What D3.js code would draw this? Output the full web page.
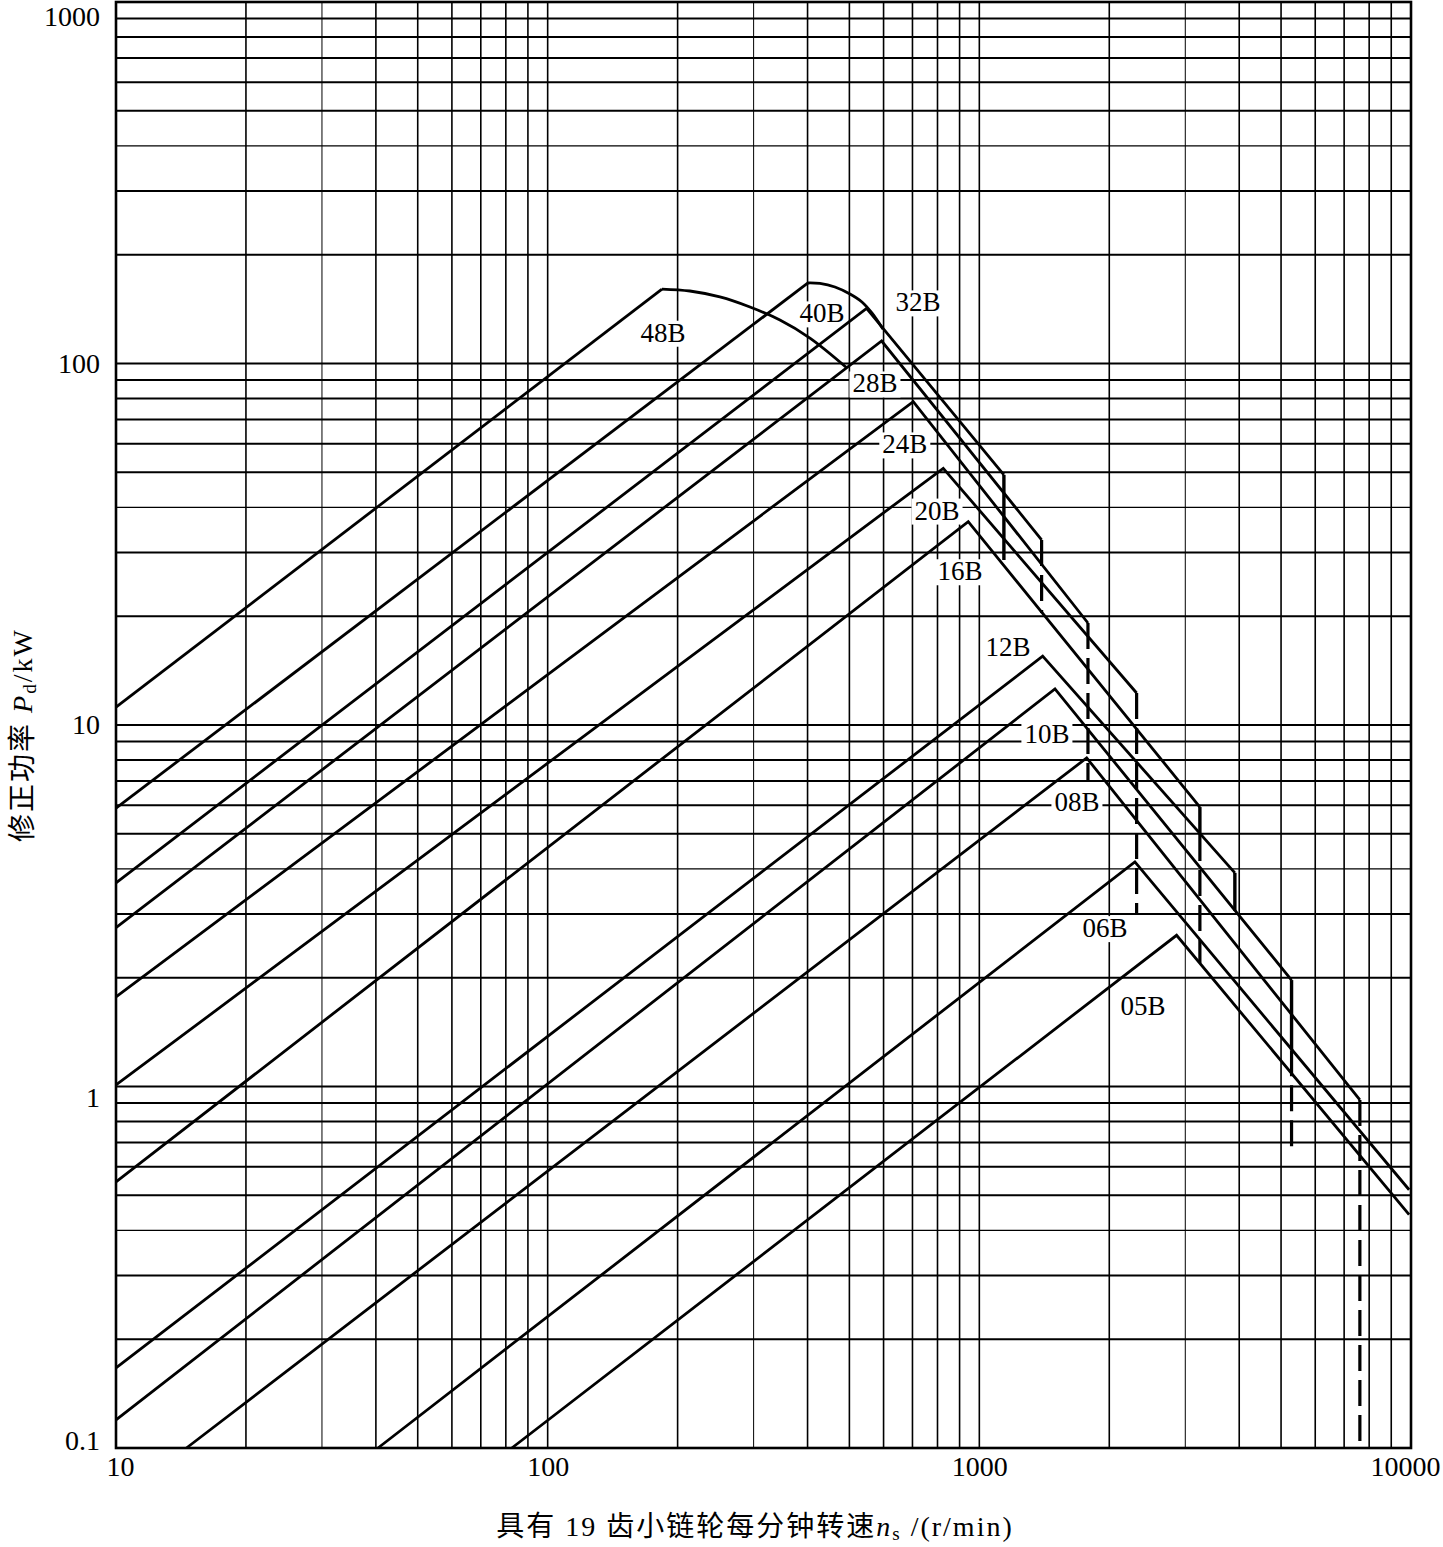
<!DOCTYPE html>
<html>
<head>
<meta charset="utf-8">
<script src="https://cdn.jsdelivr.net/npm/d3@7"></script>
<style>
body { margin: 0; background: #fff; }
svg text { font-family: "Liberation Serif", "Noto Sans CJK SC", serif; fill: #000; }
</style>
</head>
<body>
<script>
// 坐标轴刻度
var xTicks = [10, 100, 1000, 10000];
var yTicks = [0.1, 1, 10, 100, 1000];

// 链号
var chainNames = ["48B", "40B", "32B", "28B", "24B", "20B", "16B", "12B", "10B", "08B", "06B", "05B"];

// 每条链的折线点 [n, P]
var line48B = [[10, 11.2], [184, 160.7]];
var arc48B = [[184, 160.7], [213.5, 158.7], [250.6, 152.8], [294.2, 143.3], [345.2, 131.9], [405.1, 117.6], [493.6, 97.2]];
var line40B = [[10, 5.89], [400.9, 167]];
var arc40B = [[400.9, 167], [427.3, 166.5], [462.9, 162.8], [501.5, 155.7], [534.6, 148], [563.8, 138], [597.9, 124.6]];
var line32B = [[10, 3.66], [548, 142], [1140, 49.2]];
var line28B = [[10, 2.75], [593.9, 115.4], [1394, 32.5]];
var line24B = [[10, 1.77], [703, 78.4], [1785, 19.15]];
var line20B = [[10, 1.01], [825, 51.3], [2314, 12.26]];
var line16B = [[10, 0.545], [942.6, 36.5], [3243, 5.93]];
var line12B = [[10, 0.1665], [1402, 15.5], [3908, 3.90]];
var line10B = [[10, 0.1196], [1497, 12.58], [5288, 1.97]];
var line08B = [[14.56, 0.1], [1773, 8.11], [7613, 0.918]];
var line06B = [[40.45, 0.1], [2293, 4.18], [9900, 0.518]];
var line05B = [[82.6, 0.1], [2864, 2.62], [9900, 0.442]];

// 极限转速竖线 [n, P上, P下]
var solidStops = [[1140, 49.2, 28.6], [3243, 5.93, 4.96], [3908, 3.90, 3.06], [5288, 1.97, 1.26]];
var dashStops = [[1394, 32.5, 20.4], [1785, 19.15, 7.05], [2314, 12.26, 2.98], [3243, 4.96, 2.195], [5288, 1.26, 0.68], [7613, 0.918, 0.1]];

// 标注位置 [n, P]
var labelAt = [[185, 122], [432, 138], [721, 148], [573, 88.3], [672, 59.9], [798, 39.3], [902, 26.7], [1165, 16.5], [1434, 9.44], [1683, 6.16], [1954, 2.75], [2393, 1.67]];

var W = 1443, H = 1547;
var x = d3.scaleLog().domain([10, 10000]).range([116, 1411]);
var y = d3.scaleLog().domain([0.1, 1000]).range([1448, 2]);

// 网格数值
var hGrid = [];
for (var e = -1; e <= 2; e++) for (var k = 1; k <= 9; k++) hGrid.push(k * Math.pow(10, e));
hGrid.push(1000);
var vGrid = [];
for (var e2 = 1; e2 <= 3; e2++) for (var k2 = 1; k2 <= 9; k2++) vGrid.push(k2 * Math.pow(10, e2));
vGrid.push(10000);

function lead(v) { return Math.round(v / Math.pow(10, Math.floor(Math.log10(v) + 1e-9))); }

var svg = d3.select("body").append("svg").attr("width", W).attr("height", H);

var gGrid = svg.append("g");
var gBg = svg.append("g");
var gLines = svg.append("g");
var gText = svg.append("g");

gGrid.selectAll(".hg").data(hGrid).enter().append("line")
    .attr("x1", x(10)).attr("x2", x(10000))
    .attr("y1", function(d) { return y(d); })
    .attr("y2", function(d) { return y(d); })
    .attr("stroke", "#000")
    .attr("stroke-width", function(d) { return lead(d) == 4 ? 1.3 : 2; });

gGrid.selectAll(".vg").data(vGrid).enter().append("line")
    .attr("y1", y(0.1)).attr("y2", y(1000))
    .attr("x1", function(d) { return x(d); })
    .attr("x2", function(d) { return x(d); })
    .attr("stroke", "#000")
    .attr("stroke-width", function(d) { return lead(d) == 3 ? 1 : 1.6; });

// 边框
gGrid.append("rect")
    .attr("x", x(10)).attr("y", y(1000))
    .attr("width", x(10000) - x(10)).attr("height", y(0.1) - y(1000))
    .attr("fill", "none").attr("stroke", "#000").attr("stroke-width", 2.6);

// 曲线
var straight = d3.line().x(function(d) { return x(d[0]); }).y(function(d) { return y(d[1]); }).curve(d3.curveLinear);
var smooth = d3.line().x(function(d) { return x(d[0]); }).y(function(d) { return y(d[1]); }).curve(d3.curveCatmullRom.alpha(0.5));

var allLines = [line48B, line40B, line32B, line28B, line24B, line20B, line16B, line12B, line10B, line08B, line06B, line05B];
gLines.selectAll(".chain").data(allLines).enter().append("path")
    .attr("d", straight).attr("fill", "none").attr("stroke", "#000")
    .attr("stroke-width", 2.8).attr("stroke-linejoin", "miter");
gLines.selectAll(".arc").data([arc48B, arc40B]).enter().append("path")
    .attr("d", smooth).attr("fill", "none").attr("stroke", "#000").attr("stroke-width", 2.8);

gLines.selectAll(".stopS").data(solidStops).enter().append("line")
    .attr("x1", function(d) { return x(d[0]); }).attr("x2", function(d) { return x(d[0]); })
    .attr("y1", function(d) { return y(d[1]); }).attr("y2", function(d) { return y(d[2]); })
    .attr("stroke", "#000").attr("stroke-width", 3.4);
gLines.selectAll(".stopD").data(dashStops).enter().append("line")
    .attr("x1", function(d) { return x(d[0]); }).attr("x2", function(d) { return x(d[0]); })
    .attr("y1", function(d) { return y(d[1]); }).attr("y2", function(d) { return y(d[2]); })
    .attr("stroke", "#000").attr("stroke-width", 3.2).attr("stroke-dasharray", "26,9");

// 链号标注（白底遮住网格）
var labs = gText.selectAll(".lab").data(chainNames).enter().append("text")
    .attr("x", function(d, i) { return x(labelAt[i][0]); })
    .attr("y", function(d, i) { return y(labelAt[i][1]); })
    .attr("dy", "0.35em")
    .attr("text-anchor", "middle")
    .attr("font-size", 27)
    .text(function(d) { return d; });
labs.each(function() {
    var b = this.getBBox();
    gBg.append("rect").attr("x", b.x - 3).attr("y", b.y + 3).attr("width", b.width + 6).attr("height", b.height - 4).attr("fill", "#fff");
});

// 坐标轴
var xAxis = svg.append("g").attr("transform", "translate(0," + y(0.1) + ")")
    .call(d3.axisBottom(x).tickValues(xTicks).tickSize(0).tickPadding(8).tickFormat(function(d) { return String(d); }));
var yAxis = svg.append("g").attr("transform", "translate(" + x(10) + ",0)")
    .call(d3.axisLeft(y).tickValues(yTicks).tickSize(0).tickPadding(16).tickFormat(function(d) { return String(d); }));
[xAxis, yAxis].forEach(function(a) {
    a.select(".domain").remove();
    a.selectAll("text").attr("font-size", 28).attr("font-family", "Liberation Serif").attr("fill", "#000");
});
xAxis.selectAll(".tick text").attr("dx", function(d) { return d == 10 ? 4 : (d == 10000 ? -6 : 0); });
yAxis.selectAll(".tick text").attr("dy", function(d) {
    if (d == 1000) return "0.84em";
    if (d == 0.1) return "0.06em";
    if (d == 1) return "0.7em";
    return "0.32em";
});

// 轴标题
var xt = svg.append("text").attr("x", 755).attr("y", 1536).attr("text-anchor", "middle")
    .attr("font-size", 28).attr("letter-spacing", 2);
xt.append("tspan").text("具有 19 齿小链轮每分钟转速");
xt.append("tspan").attr("font-style", "italic").text("n");
xt.append("tspan").attr("font-size", 19).attr("dy", 4).text("s");
xt.append("tspan").attr("dy", -4).text(" /(r/min)");

var yt = svg.append("text").attr("transform", "translate(22,735) rotate(-90)")
    .attr("text-anchor", "middle").attr("dy", "0.35em").attr("font-size", 28).attr("letter-spacing", 2);
yt.append("tspan").text("修正功率 ");
yt.append("tspan").attr("font-style", "italic").text("P");
yt.append("tspan").attr("font-size", 19).attr("dy", 4).text("d");
yt.append("tspan").attr("dy", -4).text("/kW");
</script>
</body>
</html>
